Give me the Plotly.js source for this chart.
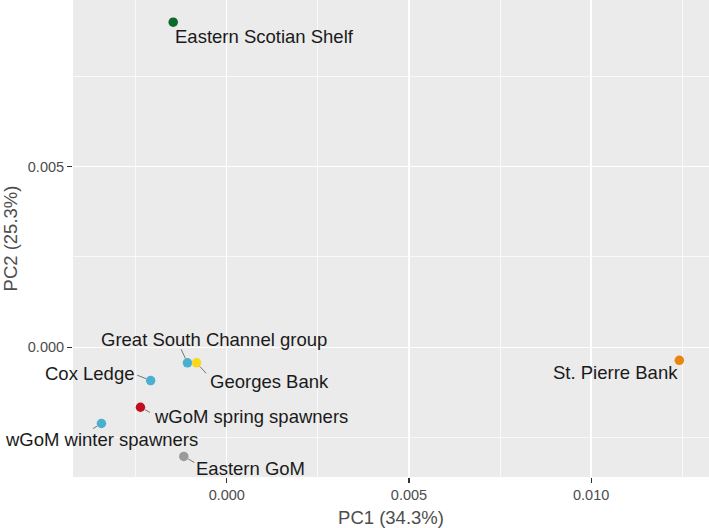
<!DOCTYPE html>
<html>
<head>
<meta charset="utf-8">
<script src="https://cdn.plot.ly/plotly-3.0.1.min.js"></script>
<style>html,body{margin:0;padding:0;background:#fff;}#chart{width:709px;height:528px;}</style>
</head>
<body>
<div id="chart"></div>
<script>
// ---- data ----
const sites = ["Eastern Scotian Shelf", "St. Pierre Bank", "Great South Channel group", "Georges Bank",
               "Cox Ledge", "wGoM spring spawners", "wGoM winter spawners", "Eastern GoM"];
const pc1 = [-0.00147, 0.01242, -0.00108, -0.00083, -0.00209, -0.00237, -0.00344, -0.00118];
const pc2 = [0.00900, -0.00036, -0.00043, -0.00043, -0.00092, -0.00166, -0.00211, -0.00302];
const pointColors = ["#0B6B2A", "#E8860C", "#4BAFD0", "#F9D71C", "#4BAFD0", "#C0101E", "#4BAFD0", "#9A9A9A"];
const xTickVals = [0, 0.005, 0.010];
const yTickVals = [0, 0.005];
const xTitle = "PC1 (34.3%)";
const yTitle = "PC2 (25.3%)";

// ---- label placement (pixel offsets from the point), style only ----
const labelDx = [91, -64, 27, 73, -61, 111, 0, 67];
const labelDy = [14, 12, -23, 19, -7, 9, 16, 12];
// leader segment start (pixel offset from the point); null = no leader
const leaderDx = [null, null, -7, 11, -15, 11, -10, 12];
const leaderDy = [null, null, -15, 12, -6, 6, 6, 7];

const trace = {
  type: "scatter",
  mode: "markers",
  x: pc1,
  y: pc2,
  text: sites,
  marker: {color: pointColors, size: 9.5, line: {width: 0}},
  hoverinfo: "text",
  showlegend: false
};

const annotations = [];
sites.forEach((s, i) => {
  if (leaderDx[i] !== null) {
    annotations.push({
      x: pc1[i], y: pc2[i], xref: "x", yref: "y", text: "",
      showarrow: true, ax: leaderDx[i], ay: leaderDy[i], arrowhead: 0,
      arrowwidth: 0.7, arrowcolor: "#444", standoff: 5
    });
  }
  annotations.push({
    x: pc1[i], y: pc2[i], xref: "x", yref: "y",
    text: s,
    font: {family: "Liberation Sans, Arial, sans-serif", size: 18.5, color: "#1a1a1a"},
    xanchor: "center", yanchor: "middle",
    showarrow: false, xshift: labelDx[i], yshift: -labelDy[i]
  });
});

const axisCommon = {
  showline: false,
  zeroline: false,
  gridcolor: "#FFFFFF",
  gridwidth: 1.4,
  ticks: "outside",
  ticklen: 5,
  tickwidth: 1.1,
  tickcolor: "#333333",
  tickformat: ".3f",
  tickfont: {family: "Liberation Sans, Arial, sans-serif", size: 14.5, color: "#4D4D4D"},
  minor: {dtick: 0.0025, showgrid: true, gridcolor: "#FFFFFF", gridwidth: 0.7, ticks: ""},
  automargin: false
};

const layout = {
  width: 709, height: 528,
  margin: {l: 73, r: 0, t: 0, b: 51},
  paper_bgcolor: "#FFFFFF",
  plot_bgcolor: "#EBEBEB",
  font: {family: "Liberation Sans, Arial, sans-serif"},
  xaxis: Object.assign({}, axisCommon, {
    range: [-0.004221, 0.013235],
    tickmode: "array", tickvals: xTickVals,
    title: {text: xTitle, font: {size: 18.5, color: "#4D4D4D"}, standoff: 8}
  }),
  yaxis: Object.assign({}, axisCommon, {
    range: [-0.003591, 0.009615],
    tickmode: "array", tickvals: yTickVals,
    title: {text: yTitle, font: {size: 18.5, color: "#4D4D4D"}, standoff: 6}
  }),
  annotations: annotations,
  hovermode: "closest"
};

Plotly.newPlot("chart", [trace], layout, {displayModeBar: false, staticPlot: true});
</script>
</body>
</html>
